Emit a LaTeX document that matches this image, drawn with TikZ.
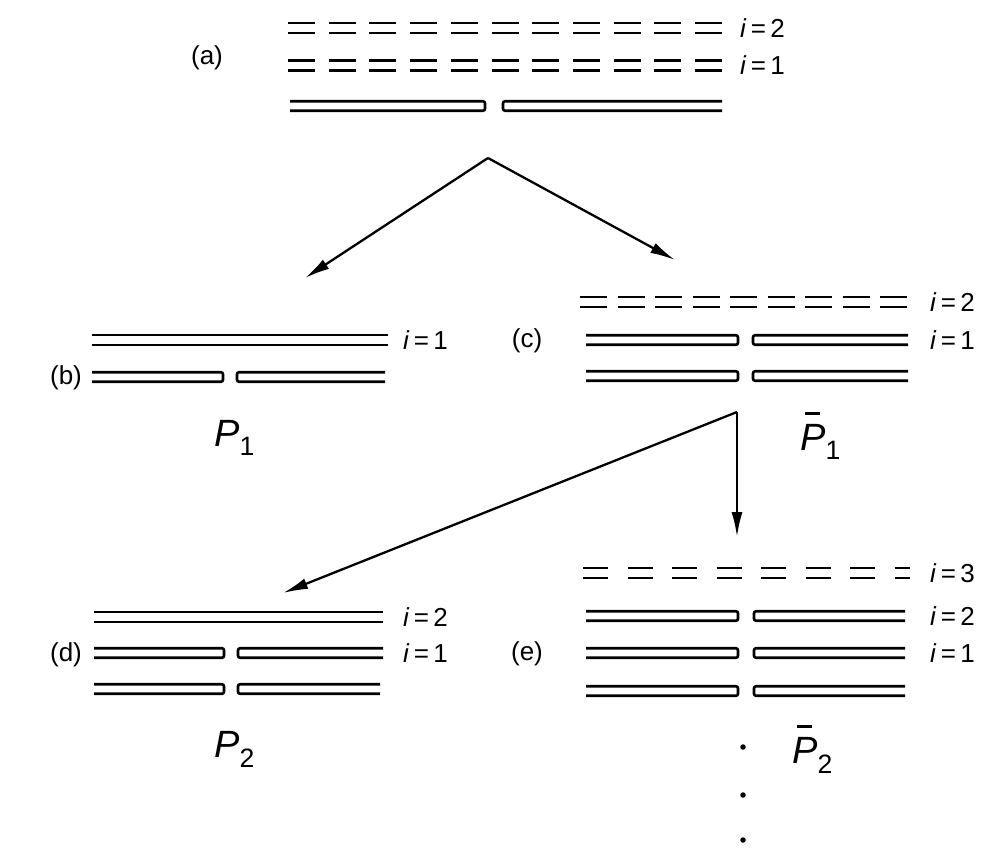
\documentclass[tikz,border=0pt]{standalone}
\usepackage{amsmath}
\usepackage{fontspec}
\setmainfont{Liberation Sans}
\usetikzlibrary{arrows.meta}

\begin{document}
\begin{tikzpicture}[
  x=1pt, y=-1pt,
  %--- strands ---
  strand/.style={line width=2.6pt, line cap=butt},
  pairrow/.style={strand, double, double distance=7.4pt},
  dashrow/.style={pairrow, dash pattern=on 27pt off #1},
  pics/split row/.style args={#1/#2/#3/#4}{code={
    \draw[strand, rounded corners=2pt] (#1,-4.75) -- (#2,-4.75) -- (#2,4.75) -- (#1,4.75);
    \draw[strand, rounded corners=2pt] (#4,-4.75) -- (#3,-4.75) -- (#3,4.75) -- (#4,4.75);
  }},
  %--- texts ---
  tag/.style={font=\fontsize{26}{28}\selectfont, inner sep=0pt},
  ilabel/.style={anchor=west, font=\fontsize{26}{28}\selectfont, inner sep=0pt},
  plabel/.style={anchor=base west, font=\fontsize{38}{40}\selectfont, inner sep=0pt},
  dot/.style={circle, fill=black, inner sep=0pt, minimum size=5.5pt},
  %--- arrows ---
  arr/.style={-{Latex[length=25pt, width=11pt]}, line width=2.3pt}
]
\useasboundingbox (0,0) rectangle (994,849);

%% ── (a) ─────────────────────────────────────────────────────────────────
\node[tag] (tagA) at (207,58) {(a)};
\draw[dashrow=13.7pt] (288,28) -- (725,28);
\draw[dashrow=13.7pt] (288,65.5) -- (725,65.5);
\pic at (0,106) {split row={290/485/503/722}};
\node[ilabel] (ia2) at (740,28) {\textit{i}\,=\,2};
\node[ilabel] (ia1) at (740,65.5) {\textit{i}\,=\,1};

%% ── (b) ─────────────────────────────────────────────────────────────────
\node[tag] (tagB) at (66,378) {(b)};
\draw[pairrow] (92,340) -- (388,340);
\pic at (0,377) {split row={92/223/237/385}};
\node[ilabel] (ib1) at (403,340) {\textit{i}\,=\,1};
\node[plabel] (pB) at (214,446) {$\textit{P}_{\text{1}}$};

%% ── (c) ─────────────────────────────────────────────────────────────────
\node[tag] (tagC) at (527,341) {(c)};
\draw[dashrow=10.5pt] (580,302) -- (910,302);
\pic at (0,340) {split row={586/738/753/908}};
\pic at (0,376) {split row={586/738/753/908}};
\node[ilabel] (ic2) at (930,302) {\textit{i}\,=\,2};
\node[ilabel] (ic1) at (930,340) {\textit{i}\,=\,1};
\node[plabel] (pC) at (800,450)
  {\rlap{\hspace{5pt}\rule[35pt]{15pt}{2.6pt}}$\textit{P}_{\text{1}}$};

%% ── (d) ─────────────────────────────────────────────────────────────────
\node[tag] (tagD) at (66,655) {(d)};
\draw[pairrow] (94,617) -- (383,617);
\pic at (0,653) {split row={94/224/238/383}};
\pic at (0,689) {split row={94/224/238/380}};
\node[ilabel] (id2) at (403,617) {\textit{i}\,=\,2};
\node[ilabel] (id1) at (403,653) {\textit{i}\,=\,1};
\node[plabel] (pD) at (214,757) {$\textit{P}_{\text{2}}$};

%% ── (e) ─────────────────────────────────────────────────────────────────
\node[tag] (tagE) at (527,654) {(e)};
\draw[pairrow, dash pattern=on 25pt off 19.5pt] (583,573) -- (910,573);
\pic at (0,616) {split row={586/738/754/905}};
\pic at (0,653) {split row={586/738/754/905}};
\pic at (0,691) {split row={586/738/754/905}};
\node[ilabel] (ie3) at (930,573) {\textit{i}\,=\,3};
\node[ilabel] (ie2) at (930,616) {\textit{i}\,=\,2};
\node[ilabel] (ie1) at (930,653) {\textit{i}\,=\,1};
\node[plabel] (pE) at (792,763)
  {\rlap{\hspace{5pt}\rule[35pt]{15pt}{2.6pt}}$\textit{P}_{\text{2}}$};
\node[dot] (dot1) at (743,747) {};
\node[dot] (dot2) at (743,795) {};
\node[dot] (dot3) at (743,840) {};

%% ── ARROWS ─────────────────────────────────────────────────────────────
\coordinate (forkA) at (488,158);
\coordinate (toB) at (305,278);
\coordinate (toC) at (675,260);
\draw[arr] (forkA) -- (toB);
\draw[arr] (forkA) -- (toC);

\coordinate (forkC) at (737,412);
\coordinate (toD) at (283,593);
\coordinate (toE) at (737,537);
\draw[arr] (forkC) -- (toD);
\draw[arr] (forkC) -- (toE);
\end{tikzpicture}
\end{document}
